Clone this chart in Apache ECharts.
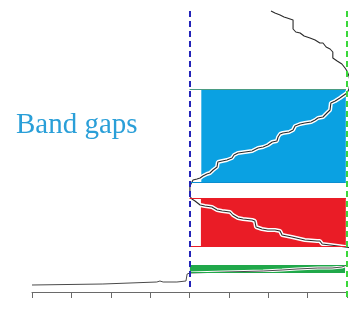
<!DOCTYPE html>
<html>
<head>
<meta charset="utf-8">
<script src="https://cdn.jsdelivr.net/npm/echarts@6/dist/echarts.min.js"></script>
<style>
  html, body { margin: 0; padding: 0; background: #fff; }
  #chartmain { width: 356px; height: 322px; }
</style>
</head>
<body>
<div id="chartmain"></div>
<script>
// x ticks: 0..8, y is a hidden frequency scale
var xTicks = [0, 1, 2, 3, 4, 5, 6, 7, 8];

// upper branch, runs down from the top, through the blue gap and into the red gap
var upperX = [6.07, 6.17, 6.30, 6.40, 6.48, 6.63, 6.63, 6.70, 6.81, 6.91, 7.06, 7.19, 7.31, 7.39, 7.47, 7.57, 7.64, 7.64, 7.75, 7.87, 7.95, 8.00, 8.05, 8.08, 8.05, 8.00, 7.95, 7.82, 7.70, 7.59, 7.57, 7.49, 7.39, 7.26, 7.19, 7.09, 6.93, 6.81, 6.68, 6.63, 6.53, 6.37, 6.30, 6.25, 6.22, 6.10, 5.99, 5.87, 5.74, 5.59, 5.41, 5.23, 5.13, 5.08, 4.95, 4.83, 4.72, 4.70, 4.60, 4.52, 4.44, 4.34, 4.27, 4.19, 4.09, 4.04, 4.01, 4.01, 4.01, 4.06, 4.14, 4.27, 4.39, 4.57, 4.70, 4.83, 5.03, 5.10, 5.23, 5.36, 5.59, 5.66, 5.69, 5.84, 5.99, 6.17, 6.30, 6.35, 6.60, 6.93, 7.24, 7.31, 7.37, 7.57, 7.77, 7.95, 8.13, 8.23];
var upperY = [28.1, 27.9, 27.7, 27.5, 27.4, 27.2, 26.3, 26.0, 25.9, 25.6, 25.4, 25.2, 24.9, 24.9, 24.5, 24.3, 24.0, 23.4, 23.1, 22.8, 22.4, 22.1, 21.6, 21.0, 20.3, 19.9, 19.7, 19.4, 19.1, 18.9, 18.2, 17.9, 17.5, 17.4, 17.2, 17.0, 16.9, 16.8, 16.6, 16.2, 16.0, 15.9, 15.8, 15.5, 15.1, 15.0, 14.7, 14.5, 14.4, 14.1, 14.0, 13.9, 13.7, 13.4, 13.2, 13.1, 13.0, 12.5, 12.2, 11.9, 11.8, 11.6, 11.4, 11.3, 11.2, 11.0, 10.6, 10.1, 9.6, 9.3, 9.1, 8.7, 8.6, 8.5, 8.2, 8.1, 8.0, 7.7, 7.4, 7.3, 7.2, 7.1, 6.5, 6.3, 6.2, 6.2, 6.1, 5.7, 5.5, 5.2, 5.1, 5.1, 4.8, 4.7, 4.6, 4.5, 4.4, 4.3];

// lower branch, near the axis and along the green gap
var lowerX = [0, 1.80, 1.83, 3.17, 3.25, 3.33, 3.68, 3.91, 3.94, 4.01, 4.90, 5.87, 6.35, 6.73, 7.26, 7.62, 7.87, 8.00, 8.20];
var lowerY = [0.7, 0.8, 0.9, 1.0, 1.1, 1.0, 1.0, 1.1, 1.8, 1.9, 2.0, 2.1, 2.2, 2.3, 2.4, 2.4, 2.5, 2.7, 2.9];

// band gaps: fill start, edge start, end, top, bottom
var bandFillStart = [4.30, 4.29, 4.01];
var bandEdgeStart = [4.0, 4.0, 4.0];
var bandEnd = [7.97, 7.97, 7.95];
var bandTop = [20.3, 9.4, 2.7];
var bandBottom = [11.0, 4.6, 2.0];
var bandColors = ['#0aa1e2', '#ea1c26', '#20a84a'];
var bandTopEdge = ['#4a9c82', '#ea1c26', '#20a84a'];
var bandBottomEdge = ['#0a8fd0', '#ea1c26', '#20a84a'];

// dashed markers: x, top, bottom
var dashX = [4.0, 8.0];
var dashTop = [28.1, 28.1];
var dashBottom = [0.2, -0.8];
var dashColors = ['#2323b8', '#3ad83a'];

function zip(xs, ys) {
  return xs.map(function (x, i) { return [x, ys[i]]; });
}

var myChart = echarts.init(document.getElementById('chartmain'));

var areas = [];
var edges = [];
for (var i = 0; i < bandTop.length; i++) {
  areas.push([
    { coord: [bandFillStart[i], bandTop[i]], itemStyle: { color: bandColors[i] } },
    { coord: [bandEnd[i], bandBottom[i]] }
  ]);
  edges.push([
    { coord: [bandEdgeStart[i], bandTop[i]], lineStyle: { color: bandTopEdge[i], width: 1, type: 'solid' } },
    { coord: [bandEnd[i], bandTop[i]] }
  ]);
  edges.push([
    { coord: [bandEdgeStart[i], bandBottom[i]], lineStyle: { color: bandBottomEdge[i], width: 1, type: 'solid' } },
    { coord: [bandEnd[i], bandBottom[i]] }
  ]);
}

var dashes = [];
for (var j = 0; j < dashX.length; j++) {
  dashes.push([
    { coord: [dashX[j], dashTop[j]], lineStyle: { color: dashColors[j], width: 2, type: [6, 4] } },
    { coord: [dashX[j], dashBottom[j]] }
  ]);
}

var upper = zip(upperX, upperY);
var lower = zip(lowerX, lowerY);

myChart.setOption({
  animation: false,
  title: {
    text: 'Band gaps',
    left: 11,
    top: 106,
    textStyle: {
      fontFamily: 'Liberation Serif',
      fontSize: 29,
      fontWeight: 'normal',
      color: '#2a9fd8'
    }
  },
  // y runs from -1 so the axis line (on zero) sits above the bottom of the grid
  grid: { left: 32, right: 9, top: 2, bottom: 20 },
  xAxis: {
    type: 'value',
    min: 0,
    max: 8,
    interval: 1,
    data: xTicks,
    axisLine: { show: true, onZero: true, lineStyle: { color: '#6a6a6a', width: 1 } },
    axisTick: { show: true, length: 6, lineStyle: { color: '#6a6a6a' } },
    axisLabel: { show: false },
    splitLine: { show: false }
  },
  yAxis: {
    type: 'value',
    min: -1,
    max: 29,
    show: false
  },
  series: [
    {
      // band fills and their edges
      type: 'line',
      data: [],
      z: 1,
      silent: true,
      markArea: { silent: true, data: areas },
      markLine: { silent: true, symbol: 'none', label: { show: false }, data: edges }
    },
    {
      // white halo under the staircase
      type: 'line',
      data: upper,
      z: 2,
      clip: false,
      showSymbol: false,
      lineStyle: { color: '#ffffff', width: 4 }
    },
    {
      type: 'line',
      data: lower.slice(9),
      z: 2,
      clip: false,
      showSymbol: false,
      lineStyle: { color: '#ffffff', width: 3 }
    },
    {
      // dashed markers
      type: 'line',
      data: [],
      z: 3,
      silent: true,
      markLine: { silent: true, symbol: 'none', label: { show: false }, data: dashes }
    },
    {
      type: 'line',
      data: upper,
      z: 4,
      clip: false,
      showSymbol: false,
      lineStyle: { color: '#2a2a2a', width: 1.1 }
    },
    {
      type: 'line',
      data: lower,
      z: 4,
      clip: false,
      showSymbol: false,
      lineStyle: { color: '#4a4a4a', width: 1 }
    }
  ]
});
</script>
</body>
</html>
